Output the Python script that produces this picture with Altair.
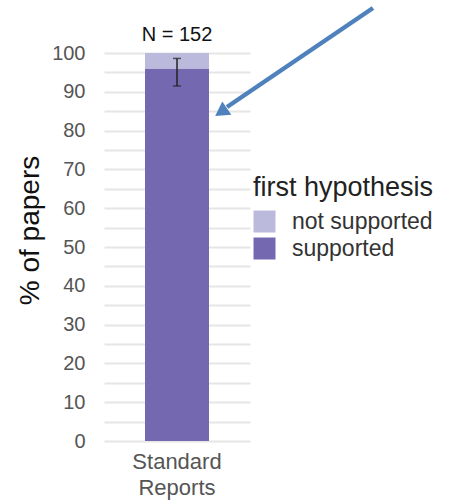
import altair as alt
import pandas as pd

categories = ["Standard Reports"]
supported = [96.0]
not_supported = [4.0]
err_low = [91.5]
err_high = [98.6]
n_labels = ["N = 152"]
series_order = ["not supported", "supported"]
series_colors = ["#bcbadc", "#7468b0"]
y_tick_values = list(range(0, 101, 5))

rows = []
for i, c in enumerate(categories):
    rows.append({"cat": c, "hyp": "supported", "val": supported[i], "ord": 0})
    rows.append({"cat": c, "hyp": "not supported", "val": not_supported[i], "ord": 1})
bars_df = pd.DataFrame(rows)
err_df = pd.DataFrame({"cat": categories, "lo": err_low, "hi": err_high, "n": n_labels})

x_scale = alt.Scale(paddingInner=0.2, paddingOuter=0.4, range=[4, 150])
x_axis = alt.Axis(labelExpr="split(datum.label, ' ')", labelAngle=0,
                  labelFontSize=22, labelColor="#555555", labelFont="Liberation Sans",
                  labelPadding=10, labelLineHeight=26, domain=False, ticks=False,
                  grid=False)
y_scale = alt.Scale(domain=[0, 100], nice=False)
y_axis = alt.Axis(values=y_tick_values,
                  labelExpr="datum.value % 10 == 0 ? datum.label : ''",
                  labelOverlap=False,
                  labelFontSize=20, labelColor="#555555", labelFont="Liberation Sans",
                  labelPadding=15, domain=False, ticks=False,
                  grid=True, gridColor="#e6e6e6", gridWidth=1.8,
                  titleFontSize=28, titleFont="Liberation Sans", titleColor="#111111",
                  titleFontWeight="normal", titleAngle=-90, titleX=-70, titleY=177,
                  titleAlign="center", titleBaseline="middle")


def X():
    return alt.X("cat:N", title=None, scale=x_scale, axis=x_axis)


def Y(field):
    return alt.Y(field, title="% of papers", scale=y_scale, axis=y_axis)


bars = alt.Chart(bars_df).mark_bar(size=64).encode(
    x=X(),
    y=alt.Y("val:Q", stack="zero", title="% of papers", scale=y_scale, axis=y_axis),
    color=alt.Color("hyp:N", sort=series_order,
                    scale=alt.Scale(domain=series_order, range=series_colors),
                    legend=alt.Legend(title="first hypothesis", orient="none",
                                      legendX=153, legendY=122,
                                      titleFontSize=27, titleFont="Liberation Sans",
                                      titleFontWeight="normal", titleColor="#222222",
                                      titlePadding=8, titleLimit=400, labelLimit=400,
                                      labelFontSize=23, labelFont="Liberation Sans",
                                      labelColor="#333333", labelOffset=16,
                                      symbolType="square", symbolSize=484,
                                      symbolStrokeWidth=0, symbolOpacity=1,
                                      rowPadding=3)),
    order=alt.Order("ord:Q"),
)

err_rule = alt.Chart(err_df).mark_rule(color="#222222", strokeWidth=1.5).encode(
    x=X(), y=Y("lo:Q"), y2="hi:Q")
err_cap_lo = alt.Chart(err_df).mark_tick(color="#222222", size=8, thickness=1.5,
                                         orient="horizontal").encode(
    x=X(), y=Y("lo:Q"))
err_cap_hi = alt.Chart(err_df).mark_tick(color="#222222", size=8, thickness=1.5,
                                         orient="horizontal").encode(
    x=X(), y=Y("hi:Q"))

n_text = alt.Chart(err_df).mark_text(fontSize=20, font="Liberation Sans",
                                     color="#111111", baseline="middle").encode(
    x=X(), y=alt.value(-18), text="n:N")

arrow_line = alt.Chart(err_df).mark_rule(color="#4f81bd", strokeWidth=4.5).encode(
    x=alt.value(273), y=alt.value(-45), x2=alt.value(127), y2=alt.value(54))
arrow_head = alt.Chart(err_df).mark_point(shape="triangle-up", filled=True,
                                          color="#4f81bd", opacity=1, size=260,
                                          angle=236).encode(
    x=alt.value(121), y=alt.value(59))

chart = alt.layer(bars, err_rule, err_cap_lo, err_cap_hi, n_text, arrow_line, arrow_head).properties(
    width=150, height=388,
    padding={"left": 100, "top": 53, "right": 200, "bottom": 61},
    autosize=alt.AutoSizeParams(type="none"),
).configure(background="white").configure_view(strokeWidth=0, stroke="transparent")

chart.save("out.html", embed_options={"renderer": "svg", "actions": False})
